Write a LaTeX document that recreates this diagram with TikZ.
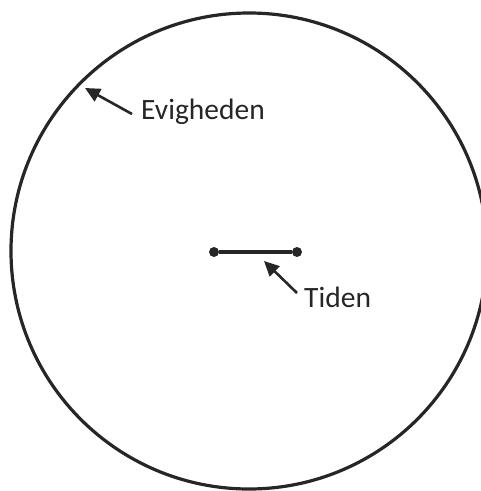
\documentclass[tikz,border=0pt]{standalone}
\usepackage{fontspec}
\setmainfont{Carlito}
\usetikzlibrary{arrows.meta}
\begin{document}
\begin{tikzpicture}[x=1pt,y=-1pt,
  line/.style={line width=3.2pt,draw=black!85},
  pointer/.style={line width=2.6pt,draw=black!85,-{Triangle[length=15pt,width=14pt]}},
  lbl/.style={font=\fontsize{29.5}{34}\selectfont,text=black!85,inner sep=0pt,anchor=west},
  dot/.style={circle,fill=black!85,inner sep=0pt,minimum size=10pt}]
\useasboundingbox (0,0) rectangle (481,491);
\clip (0,0) rectangle (481,491);
\draw[line] (249,251) circle (238);
\node[dot] (a) at (214,252) {};
\node[dot] (b) at (297,252) {};
\draw[line] (a) -- (b);
\node[lbl] (ev) at (141,112) {Evigheden};
\coordinate (evtip) at (85,88);
\coordinate (evtail) at (132,114);
\draw[pointer] (evtail) -- (evtip);
\node[lbl] (ti) at (304,297) {Tiden};
\coordinate (titip) at (264,261);
\coordinate (titail) at (297,293);
\draw[pointer] (titail) -- (titip);
\end{tikzpicture}
\end{document}
